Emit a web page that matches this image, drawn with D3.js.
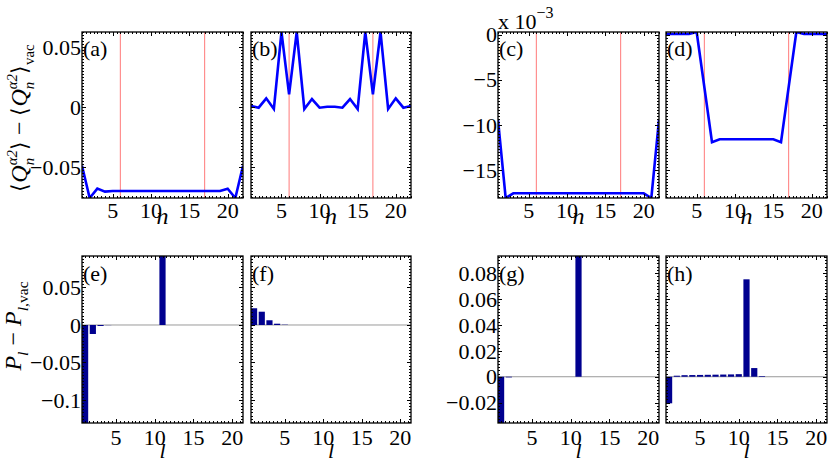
<!DOCTYPE html>
<html><head><meta charset="utf-8">
<script src="https://cdn.jsdelivr.net/npm/d3@7/dist/d3.min.js"></script>
<style>
body{margin:0;background:#fff}
text{font-family:"Liberation Serif","Times New Roman",serif;fill:#000}
</style>
</head><body>
<svg id="c" width="830" height="464"></svg>
<script>
// ---------------- data ----------------
const nSites = [1,2,3,4,5,6,7,8,9,10,11,12,13,14,15,16,17,18,19,20,21,22];
const modes  = [1,2,3,4,5,6,7,8,9,10,11,12,13,14,15,16,17,18,19,20,21];
const markedSites = [6, 17];

const dQ_a = [-0.0487,-0.0756,-0.0678,-0.0703,-0.0698,-0.0698,-0.0698,-0.0698,-0.0698,-0.0698,-0.0698,
              -0.0698,-0.0698,-0.0698,-0.0698,-0.0698,-0.0698,-0.0698,-0.0698,-0.0678,-0.0756,-0.0487];
const dQ_b = [0.0011,-0.0003,0.0075,-0.0014,0.0628,0.0108,0.0628,-0.0014,0.0069,-0.0003,0.0005,
              0.0005,-0.0003,0.0069,-0.0014,0.0628,0.0108,0.0628,-0.0014,0.0075,-0.0003,0.0011];
const dQ_c = [-0.00943,-0.01807,-0.01755,-0.01755,-0.01755,-0.01755,-0.01755,-0.01755,-0.01755,-0.01755,-0.01755,
              -0.01755,-0.01755,-0.01755,-0.01755,-0.01755,-0.01755,-0.01755,-0.01755,-0.01755,-0.01807,-0.00943];
const dQ_d = [0.00006,0.00006,0.00006,0.00006,0.00028,-0.0058,-0.0119,-0.01157,-0.01157,-0.01157,-0.01157,
              -0.01157,-0.01157,-0.01157,-0.01157,-0.0119,-0.0058,0.00028,0.00006,0.00006,0.00006,0.00006];

const dP_e = [-0.1307,-0.012,-0.0013,-0.0002,0,0,0,0,0,0,0.092,0,0,0,0,0,0,0,0,0,0];
const dP_f = [0.0223,0.0177,0.0063,0.0017,0.0004,0,0,0,0,0,0,0,0,0,0,0,0,0,0,0,0];
const dP_g = [-0.0357,-0.0005,0,0,0,0,0,0,0,0,0.0932,0,0,0,0,0,0,0,0,0,0];
const dP_h = [-0.0205,0.0008,0.0012,0.0013,0.0014,0.0015,0.0016,0.0017,0.0018,0.002,0.0752,0.0067,0.0005,0,0,0,0,0,0,0,0];

const xTicks = [5,10,15,20];
const yTicksAB = [-0.05,0,0.05];
const yTicksCD = [-0.015,-0.01,-0.005,0];
const yTicksEF = [-0.1,-0.05,0,0.05];
const yTicksGH = [-0.02,0,0.02,0.04,0.06,0.08];
const topLabels = ["(a)","(b)","(c)","(d)"];
const botLabels = ["(e)","(f)","(g)","(h)"];

// ---------------- layout ----------------
const svg = d3.select("#c");
const FS = 22;
const cols = [[82,243],[251,411],[498,659],[666,827]];
const topRow = [32,198], botRow = [256,423];
const minus = s => s.replace("-", "\u2212");
const fmtDec = v => Math.abs(v) < 1e-12 ? "0" : minus(String(+v.toFixed(4)));
const fmtMilli = v => minus(String(Math.round(v*1000)));

let clipId = 0;
function frame(g, x, y, xt, yt, xMinor, yMinorN, yFmt, showY, xLabBase) {
  const [x0,x1] = x.range(), [y0,y1] = y.range();   // y0 bottom, y1 top
  const yMinor = (yt[1]-yt[0]) / yMinorN;
  const [d0,d1] = y.domain();
  const ym = d3.range(Math.ceil(d0/yMinor - 1e-6)*yMinor, d1+1e-9, yMinor);
  const [xd0,xd1] = x.domain();
  const xm = d3.range(Math.ceil(xd0/xMinor - 1e-6)*xMinor, xd1+1e-9, xMinor);
  const t = g.append("g").attr("stroke","#000").attr("stroke-width",1);
  xm.forEach(v => {
    const px = Math.round(x(v))+0.5;
    t.append("line").attr("x1",px).attr("x2",px).attr("y1",y0).attr("y2",y0-2);
    t.append("line").attr("x1",px).attr("x2",px).attr("y1",y1).attr("y2",y1+2);
  });
  ym.forEach(v => {
    const py = Math.round(y(v))+0.5;
    t.append("line").attr("x1",x0).attr("x2",x0+2).attr("y1",py).attr("y2",py);
    t.append("line").attr("x1",x1).attr("x2",x1-2).attr("y1",py).attr("y2",py);
  });
  xt.forEach(v => {
    const px = Math.round(x(v))+0.5;
    t.append("line").attr("x1",px).attr("x2",px).attr("y1",y0).attr("y2",y0-4);
    t.append("line").attr("x1",px).attr("x2",px).attr("y1",y1).attr("y2",y1+4);
    g.append("text").attr("x",x(v)).attr("y",xLabBase).attr("text-anchor","middle")
      .attr("font-size",FS).text(v);
  });
  yt.forEach(v => {
    const py = Math.round(y(v))+0.5;
    t.append("line").attr("x1",x0).attr("x2",x0+4).attr("y1",py).attr("y2",py);
    t.append("line").attr("x1",x1).attr("x2",x1-4).attr("y1",py).attr("y2",py);
    if (showY) g.append("text").attr("x",x0-1).attr("y",y(v)).attr("dy","0.35em")
      .attr("text-anchor","end").attr("font-size",FS).text(yFmt(v));
  });
  g.append("rect").attr("x",x0).attr("y",y1).attr("width",x1-x0).attr("height",y0-y1)
    .attr("fill","none").attr("stroke","#000").attr("stroke-width",1.3);
}

function clip(x, y) {
  const id = "clip"+(clipId++);
  const [x0,x1] = x.range(), [y0,y1] = y.range();
  svg.append("clipPath").attr("id",id).append("rect")
    .attr("x",x0).attr("y",y1).attr("width",x1-x0).attr("height",y0-y1);
  return "url(#"+id+")";
}

// ---------------- top row ----------------
const topData = [dQ_a, dQ_b, dQ_c, dQ_d];
const yAB = d3.extent(dQ_a.concat(dQ_b));
const yCD = d3.extent(dQ_c.concat(dQ_d));
topData.forEach((vals, i) => {
  const g = svg.append("g");
  const x = d3.scaleLinear().domain(d3.extent(nSites)).range(cols[i]);
  const y = d3.scaleLinear().domain(i < 2 ? yAB : yCD).range([topRow[1], topRow[0]]);
  const cp = clip(x, y);
  const inner = g.append("g").attr("clip-path", cp);
  markedSites.forEach(m => inner.append("line").attr("x1",x(m)).attr("x2",x(m))
    .attr("y1",topRow[0]).attr("y2",topRow[1]).attr("stroke","#ff7a7a").attr("stroke-width",1));
  inner.append("path").datum(vals)
    .attr("d", d3.line().x((d,k) => x(nSites[k])).y(d => y(d)))
    .attr("fill","none").attr("stroke","#0000ff").attr("stroke-width",2.6).attr("stroke-linejoin","miter");
  const yt = i < 2 ? yTicksAB : yTicksCD;
  frame(g, x, y, xTicks, yt, 0.5, i < 2 ? 20 : 15, i < 2 ? fmtDec : fmtMilli, i % 2 === 0, 218);
  g.append("text").attr("x",cols[i][0]+1).attr("y",topRow[0]+24).attr("font-size",FS).text(topLabels[i]);
  g.append("text").attr("x",(cols[i][0]+cols[i][1])/2).attr("y",224).attr("text-anchor","middle")
    .attr("font-size",24).attr("font-style","italic").text("n");
});
// exponent label above (c)
const ex = svg.append("text").attr("x",cols[2][0]).attr("y",29).attr("font-size",FS);
ex.append("tspan").text("x 10");
ex.append("tspan").attr("dy",-11).attr("font-size",16).text("\u22123");

// ---------------- bottom row ----------------
const botData = [dP_e, dP_f, dP_g, dP_h];
const yEF = d3.extent(dP_e.concat(dP_f));
const yGH = d3.extent(dP_g.concat(dP_h));
botData.forEach((vals, i) => {
  const g = svg.append("g");
  const x = d3.scaleLinear().domain([modes[0]-0.4, modes[modes.length-1]+0.4]).range(cols[i]);
  const y = d3.scaleLinear().domain(i < 2 ? yEF : yGH).range([botRow[1], botRow[0]]);
  const cp = clip(x, y);
  const inner = g.append("g").attr("clip-path", cp);
  inner.append("line").attr("x1",cols[i][0]).attr("x2",cols[i][1]).attr("y1",y(0)).attr("y2",y(0))
    .attr("stroke","#9a9a9a").attr("stroke-width",1);
  inner.selectAll("rect").data(vals).enter().append("rect")
    .attr("x",(d,k) => x(modes[k]-0.4))
    .attr("width",(d,k) => x(modes[k]+0.4)-x(modes[k]-0.4))
    .attr("y",d => Math.min(y(d),y(0)))
    .attr("height",d => Math.abs(y(d)-y(0)))
    .attr("fill","#00008f");
  const yt = i < 2 ? yTicksEF : yTicksGH;
  frame(g, x, y, xTicks, yt, 0.5, i < 2 ? 12 : 8, fmtDec, i % 2 === 0, 445);
  g.append("text").attr("x",cols[i][0]+1).attr("y",botRow[0]+25).attr("font-size",FS).text(botLabels[i]);
  g.append("text").attr("x",(cols[i][0]+cols[i][1])/2).attr("y",458).attr("text-anchor","middle")
    .attr("font-size",22).attr("font-style","italic").text("l");
});

// ---------------- rotated math y-labels ----------------
function mathLabel(cx, cy, parts, fs) {
  const g = svg.append("g").attr("transform",`translate(${cx},${cy}) rotate(-90)`);
  const inner = g.append("g");
  let cursor = 0, stackStart = null, stackW = 0;
  parts.forEach(p => {
    const size = fs*(p.scale||1);
    let xpos = cursor;
    if (p.stack) xpos = stackStart;
    const t = inner.append("text").attr("x",xpos).attr("y",-(p.shift||0)*fs)
      .attr("font-size",size).attr("font-style",p.it?"italic":"normal")
      .attr("font-family", p.sym ? "'DejaVu Serif','Liberation Serif',serif" : null)
      .text(p.t);
    const w = t.node().getComputedTextLength() + (p.pad||0)*fs;
    if (p.stack) { cursor = stackStart + Math.max(stackW, w); }
    else { stackStart = cursor; stackW = w; cursor += w; }
  });
  inner.attr("transform",`translate(${-cursor/2},0)`);
}
const angleL = "\u27E8", angleR = "\u27E9";
mathLabel(27, 118, [
  {t:angleL, sym:true, scale:0.9},
  {t:"Q", it:true},
  {t:"\u03B12", it:true, scale:0.62, shift:0.42},
  {t:"n", it:true, scale:0.62, shift:-0.3, stack:true},
  {t:angleR, sym:true, scale:0.9, pad:0.25},
  {t:"\u2212", pad:0.25},
  {t:angleL, sym:true, scale:0.9},
  {t:"Q", it:true},
  {t:"\u03B12", it:true, scale:0.62, shift:0.42},
  {t:"n", it:true, scale:0.62, shift:-0.3, stack:true},
  {t:angleR, sym:true, scale:0.9},
  {t:"vac", scale:0.62, shift:-0.3}
], 24);
mathLabel(21, 326, [
  {t:"P", it:true},
  {t:"l", it:true, scale:0.65, shift:-0.3, pad:0.25},
  {t:"\u2212", pad:0.25},
  {t:"P", it:true},
  {t:"l", it:true, scale:0.65, shift:-0.3},
  {t:",vac", scale:0.65, shift:-0.3}
], 24);
</script>
</body></html>
